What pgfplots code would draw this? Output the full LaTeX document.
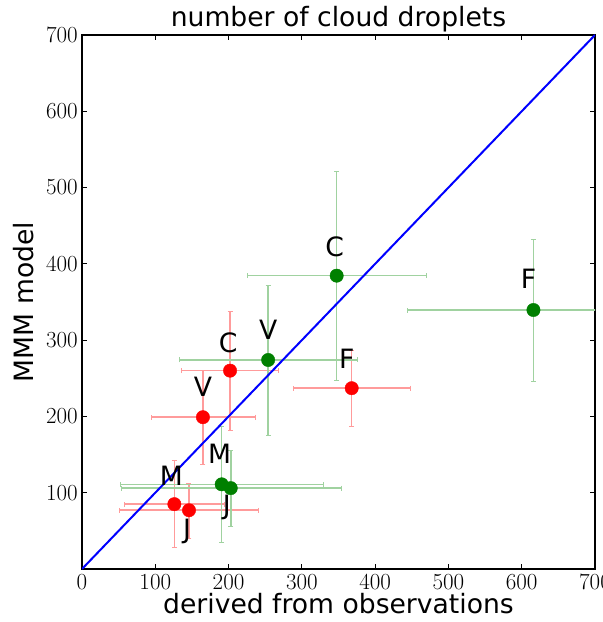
\documentclass[border=0pt]{standalone}
\usepackage{fontspec}
\setsansfont{DejaVu Sans}
\usepackage{pgfplots}
\usepackage{pgfplotstable}
\pgfplotsset{compat=1.18}
\definecolor{errR}{RGB}{255,155,155}
\definecolor{errG}{RGB}{160,210,160}
\definecolor{mplgreen}{RGB}{0,128,0}
\newcommand{\lab}{\fontsize{26.6}{30}\selectfont\sffamily}

\pgfplotstableread{
lab x y ex ey
V 165 199 71 61
C 202 260 66 77.5
F 368 237 80 50
M 126 85 68 57
J 146 77 95 36
}\redtab
\pgfplotstableread{
lab x y ex ey
V 254 274 121 98
C 347.5 384.5 121.5 137
F 616 339.5 172 93
M 190.6 111 138 76
J 203 106 150 50
}\greentab

\begin{document}
\begin{tikzpicture}
\begin{axis}[name=ax, at={(0,0)}, anchor=south west,
  scale only axis, width=513pt, height=534pt,
  xmin=0, xmax=700, ymin=0, ymax=700,
  xtick={0,100,...,700}, ytick={100,200,...,700},
  tick align=inside, major tick length=5pt,
  tick style={black, line width=0.8pt},
  axis line style={line width=1.6pt},
  /pgf/number format/assume math mode=true,
  tick label style={font=\fontsize{23}{23}\selectfont\rmfamily},
  xticklabel style={inner sep=2pt, yshift=-3pt},
  yticklabel style={inner sep=2pt, xshift=-2pt},
  title={number of cloud droplets},
  title style={font=\lab, at={(axis description cs:0.5,1)}, anchor=base, yshift=2pt},
  xlabel={derived from observations},
  xlabel style={font=\lab, at={(axis description cs:0.5,-0.0824)}, anchor=base},
  ylabel={MMM model},
  ylabel style={font=\lab, at={(axis description cs:-0.0955,0.5)}, anchor=base},
]
% error bars
\addplot[only marks, mark=none,
  error bars/.cd, x dir=both, x explicit, y dir=both, y explicit,
  error bar style={errR, line width=1.6pt, mark size=2.5pt}]
  table[x=x, y=y, x error=ex, y error=ey] {\redtab};
\addplot[only marks, mark=none,
  error bars/.cd, x dir=both, x explicit, y dir=both, y explicit,
  error bar style={errG, line width=1.6pt, mark size=2.5pt}]
  table[x=x, y=y, x error=ex, y error=ey] {\greentab};
% one-to-one line
\addplot[blue, line width=2pt] coordinates {(0,0) (700,700)};
% markers
\addplot[only marks, mark=*, mark size=6.7pt, red, mark options={draw=red, fill=red}]
  table[x=x, y=y] {\redtab};
\addplot[only marks, mark=*, mark size=6.7pt, mplgreen, mark options={draw=mplgreen, fill=mplgreen}]
  table[x=x, y=y] {\greentab};
% labels
\node[font=\lab, anchor=base, yshift=21pt] at (axis cs:165,199) {V};
\node[font=\lab, anchor=base, xshift=-2pt, yshift=18pt] at (axis cs:202,260) {C};
\node[font=\lab, anchor=base, xshift=-5pt, yshift=20pt] at (axis cs:368,237) {F};
\node[font=\lab, anchor=base, xshift=-3pt, yshift=19pt] at (axis cs:126,85) {M};
\node[font=\lab, anchor=base, xshift=-2pt, yshift=-28pt] at (axis cs:146,77) {J};
\node[font=\lab, anchor=base, yshift=20pt] at (axis cs:254,274) {V};
\node[font=\lab, anchor=base, xshift=-2pt, yshift=19pt] at (axis cs:347.5,384.5) {C};
\node[font=\lab, anchor=base, xshift=-5pt, yshift=22pt] at (axis cs:616,339.5) {F};
\node[font=\lab, anchor=base, xshift=-2pt, yshift=21pt] at (axis cs:190.6,111) {M};
\node[font=\lab, anchor=base, xshift=-4pt, yshift=-26pt] at (axis cs:203,106) {J};
\end{axis}
\pgfresetboundingbox
\path[use as bounding box] ([xshift=-82pt,yshift=-53pt]ax.south west) rectangle ([xshift=8pt,yshift=35pt]ax.north east);
\end{tikzpicture}
\end{document}
